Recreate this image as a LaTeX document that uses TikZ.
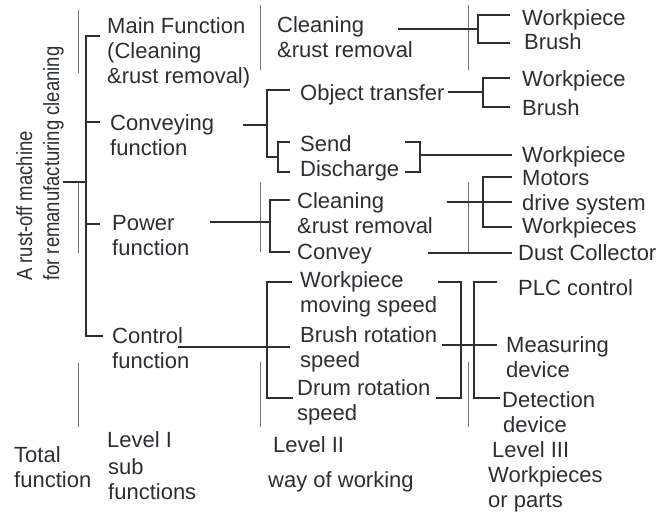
\documentclass[tikz,border=0pt]{standalone}
\usepackage{fontspec}
\setmainfont{Liberation Sans}
\usetikzlibrary{calc}
\definecolor{inkc}{HTML}{2B2F34}
\definecolor{rulec}{HTML}{707378}
\tikzset{
  lbl/.style={anchor=base west, inner sep=0pt, align=left, text=inkc,
    font=\fontsize{22}{25}\selectfont},
  stem/.style={draw=inkc, line width=2.6pt},
  rulel/.style={draw=rulec, line width=1pt},
}

\begin{document}
\begin{tikzpicture}[x=1pt,y=-1pt]
\useasboundingbox (0,0) rectangle (662,512);

% column rules
\foreach \x/\a/\b in {78/10/73, 78/182/253, 78/363/427,
  260/5/70, 260/182/252, 260/362/427,
  468/5/70, 468/182/253, 468/362/427}
  \draw[rulel] (\x,\a) -- (\x,\b);

% total function
\node[anchor=south west, inner sep=0pt, align=left, text=inkc,
  font=\fontsize{22}{27}\selectfont, rotate=90, xscale=0.84, transform shape]
  (root) at (64,281) {A rust-off machine\\for remanufacturing cleaning};

% level I (base = last line)
\node[lbl] (main) at (107,83) {Main Function\\(Cleaning\\\&rust removal)};
\node[lbl] (conv) at (110,155) {Conveying\\function};
\node[lbl] (power) at (112,255) {Power\\function};
\node[lbl] (ctrl) at (112,368) {Control\\function};

% level II
\node[lbl] (clean) at (277,57) {Cleaning\\\&rust removal};
\node[lbl] (objt) at (300,100) {Object transfer};
\node[lbl] (send) at (300,176) {Send\\Discharge};
\node[lbl] (pclean) at (297,233) {Cleaning\\\&rust removal};
\node[lbl] (convey) at (297,259) {Convey};
\node[lbl] (wspeed) at (300,312) {Workpiece\\moving speed};
\node[lbl] (bspeed) at (300,367) {Brush rotation\\speed};
\node[lbl] (dspeed) at (297,420) {Drum rotation\\speed};

% level III
\node[lbl] (wp1) at (522,25) {Workpiece};
\node[lbl] (br1) at (524,49) {Brush};
\node[lbl] (wp2) at (522,86) {Workpiece};
\node[lbl] (br2) at (522,115) {Brush};
\node[lbl] (wp3) at (522,162) {Workpiece};
\node[lbl] (motor) at (522,185) {Motors};
\node[lbl] (drive) at (522,210) {drive system};
\node[lbl] (wps) at (522,233) {Workpieces};
\node[lbl] (dust) at (518,260) {Dust Collector};
\node[lbl] (plc) at (518,295) {PLC control};
\node[lbl] (meas) at (506,377) {Measuring\\device};
\node[lbl] (detect) at (502,432) {Detection\\\hspace*{1pt}device};

% bottom captions
\node[lbl] (total) at (14,487) {Total\\function};
\node[lbl] (lvI) at (107,499) {Level I\\[2pt]\hspace*{1pt}sub\\\hspace*{1pt}functions};
\node[lbl] (lvII) at (268,487) {\hspace*{5pt}Level II\\[10pt]way of working};
\node[lbl] (lvIII) at (488,507) {\hspace*{4pt}Level III\\Workpieces\\or parts};

% spines
\coordinate (S0) at (86,0);
\coordinate (S1) at (267,0);
\coordinate (S2) at (278,0);
\coordinate (S3) at (270,0);
\coordinate (S4) at (478,0);
\coordinate (S5) at (483,0);
\coordinate (S6) at (420,0);
\coordinate (S7) at (461,0);
\coordinate (S8) at (474,0);

% total -> level I
\draw[stem] (63,182) -- (S0 |- 0,182);
\draw[stem] (100,36) -- (S0 |- 0,36) -- (S0 |- 0,336) -- (103,336);
\draw[stem] (S0 |- 0,122) -- (100,122);
\draw[stem] (S0 |- 0,224) -- (100,224);

% level I -> level II
\draw[stem] (243,125) -- (S1 |- 0,125);
\draw[stem] (290,90) -- (S1 |- 0,90) -- (S1 |- 0,157) -- (S2 |- 0,157);
\draw[stem] (290,142) -- (S2 |- 0,142) -- (S2 |- 0,172) -- (290,172);
\draw[stem] (210,222) -- (S3 |- 0,222);
\draw[stem] (290,200) -- (S3 |- 0,200) -- (S3 |- 0,252) -- (290,252);
\draw[stem] (178,347) -- (S1 |- 0,347) -- (290,347);
\draw[stem] (292,282) -- (S1 |- 0,282) -- (S1 |- 0,398) -- (293,398);

% level II -> level III
\draw[stem] (398,29) -- (S4 |- 0,29);
\draw[stem] (510,15) -- (S4 |- 0,15) -- (S4 |- 0,43) -- (510,43);
\draw[stem] (448,92) -- (S5 |- 0,92);
\draw[stem] (510,78) -- (S5 |- 0,78) -- (S5 |- 0,107) -- (510,107);
\draw[stem] (405,142) -- (S6 |- 0,142) -- (S6 |- 0,172) -- (405,172);
\draw[stem] (S6 |- 0,155) -- (512,155);
\draw[stem] (447,202) -- (512,202);
\draw[stem] (512,177) -- (S5 |- 0,177) -- (S5 |- 0,227) -- (512,227);
\draw[stem] (428,253) -- (512,253);
\draw[stem] (438,282) -- (S7 |- 0,282) -- (S7 |- 0,398) -- (436,398);
\draw[stem] (442,345) -- (497,345);
\draw[stem] (497,282) -- (S8 |- 0,282) -- (S8 |- 0,398) -- (500,398);
\end{tikzpicture}
\end{document}
